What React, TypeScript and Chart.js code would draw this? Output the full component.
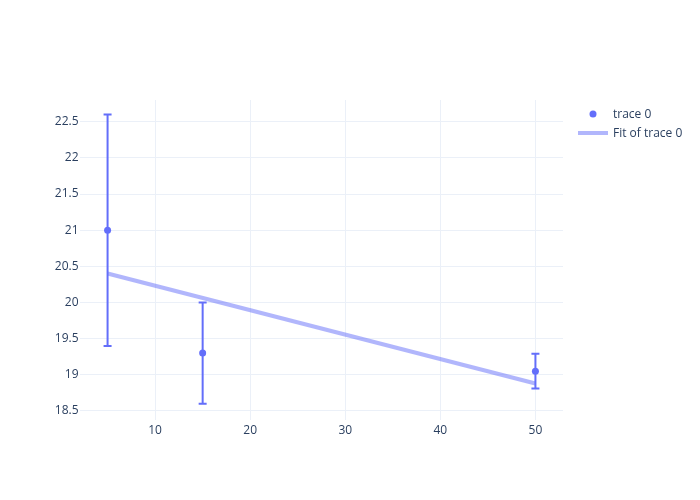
import React, { useEffect, useRef } from "react";
import { Chart, registerables } from "chart.js";

Chart.register(...registerables);

const xValues = [5, 15, 50];
const yValues = [21, 19.3, 19.05];
const yErrors = [1.6, 0.7, 0.24];
const fitX = [5, 50];
const fitY = [20.4, 18.88];
const xTicks = [10, 20, 30, 40, 50];
const yTicks = [18.5, 19, 19.5, 20, 20.5, 21, 21.5, 22, 22.5];
const traceName = "trace 0";
const fitName = "Fit of trace 0";

const MAIN = "#636efa";
const FIT = "rgba(99,110,250,0.5)";
const TEXT = "#2a3f5f";
const GRID = "#ebf0f8";
const FONT = '"Open Sans", sans-serif';

export default function App() {
  const ref = useRef<HTMLCanvasElement>(null);
  useEffect(() => {
    document.body.style.margin = "0";
    const errorPlugin = {
      id: "errbars",
      afterDatasetsDraw(chart: any) {
        const ctx = chart.ctx;
        const xs = chart.scales.x;
        const ys = chart.scales.y;
        ctx.save();
        ctx.strokeStyle = MAIN;
        ctx.lineWidth = 2;
        xValues.forEach((x, i) => {
          const px = xs.getPixelForValue(x);
          const top = ys.getPixelForValue(yValues[i] + yErrors[i]);
          const bot = ys.getPixelForValue(yValues[i] - yErrors[i]);
          ctx.beginPath();
          ctx.moveTo(px, top);
          ctx.lineTo(px, bot);
          ctx.moveTo(px - 4, top);
          ctx.lineTo(px + 4, top);
          ctx.moveTo(px - 4, bot);
          ctx.lineTo(px + 4, bot);
          ctx.stroke();
        });
        ctx.restore();
      },
      afterDraw(chart: any) {
        const ctx = chart.ctx;
        ctx.save();
        ctx.font = `12px ${FONT}`;
        ctx.fillStyle = TEXT;
        ctx.textBaseline = "middle";
        ctx.textAlign = "left";
        ctx.beginPath();
        ctx.fillStyle = MAIN;
        ctx.arc(593, 114, 3.5, 0, Math.PI * 2);
        ctx.fill();
        ctx.fillStyle = TEXT;
        ctx.fillText(traceName, 613, 114.5);
        ctx.strokeStyle = FIT;
        ctx.lineWidth = 4;
        ctx.beginPath();
        ctx.moveTo(578, 133);
        ctx.lineTo(608, 133);
        ctx.stroke();
        ctx.fillText(fitName, 613, 133.5);
        ctx.restore();
      },
    };
    const chart = new Chart(ref.current!, {
      type: "scatter",
      data: {
        datasets: [
          {
            label: fitName,
            data: fitX.map((x, i) => ({ x, y: fitY[i] })),
            showLine: true,
            borderColor: FIT,
            borderWidth: 4,
            pointRadius: 0,
            order: 2,
          } as any,
          {
            label: traceName,
            data: xValues.map((x, i) => ({ x, y: yValues[i] })),
            backgroundColor: MAIN,
            borderColor: MAIN,
            pointRadius: 3.5,
            borderWidth: 0,
            order: 1,
          },
        ],
      },
      options: {
        animation: false,
        responsive: false,
        maintainAspectRatio: false,
        layout: { padding: { left: 0, right: 137, top: 100, bottom: 0 } },
        plugins: { legend: { display: false }, tooltip: { enabled: false } },
        scales: {
          x: {
            type: "linear",
            min: 2.1,
            max: 52.9,
            afterBuildTicks: (s: any) => {
              s.ticks = xTicks.map((v) => ({ value: v }));
            },
            afterFit: (s: any) => {
              s.height = 80;
            },
            grid: { color: GRID, lineWidth: 1, drawTicks: false },
            border: { display: false },
            ticks: {
              color: TEXT,
              font: { family: FONT, size: 12 },
              padding: 3,
              maxRotation: 0,
              callback: (v: any) => String(v),
            },
          },
          y: {
            type: "linear",
            min: 18.375,
            max: 22.8,
            afterBuildTicks: (s: any) => {
              s.ticks = yTicks.map((v) => ({ value: v }));
            },
            afterFit: (s: any) => {
              s.width = 80;
            },
            grid: { color: GRID, lineWidth: 1, drawTicks: false },
            border: { display: false },
            ticks: {
              color: TEXT,
              font: { family: FONT, size: 12 },
              padding: 1.5,
              callback: (v: any) => String(v),
            },
          },
        },
      },
      plugins: [errorPlugin],
    });
    return () => chart.destroy();
  }, []);
  return (
    <div style={{ width: 700, height: 500, background: "#fff" }}>
      <canvas ref={ref} width={700} height={500} style={{ width: 700, height: 500 }} />
    </div>
  );
}
